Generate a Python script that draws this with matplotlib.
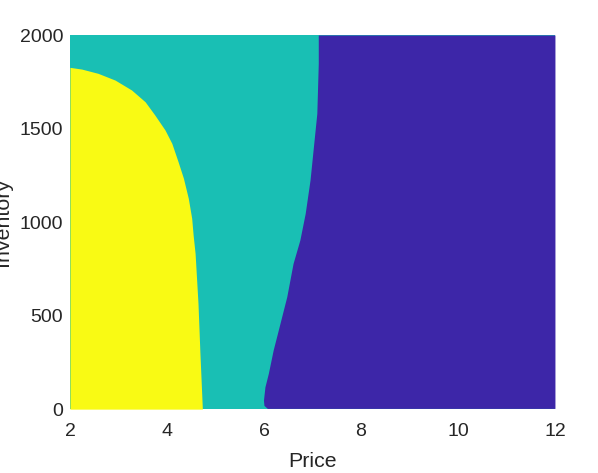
import matplotlib
matplotlib.use("Agg")
import matplotlib.pyplot as plt
import numpy as np

# Region boundaries
yellow_inv = [0, 298, 565, 833, 930, 1020, 1127, 1234, 1322, 1421, 1492, 1572,
              1643, 1706, 1759, 1795, 1818, 1827]
yellow_price = [4.73, 4.68, 4.64, 4.58, 4.54, 4.51, 4.44, 4.34, 4.23, 4.10, 3.96, 3.75,
                3.55, 3.27, 2.93, 2.58, 2.24, 2.0]

blue_inv = [4, 20, 48, 119, 191, 316, 458, 601, 779, 904, 1046, 1225, 1403,
            1581, 1848, 2000]
blue_price = [6.07, 6.0, 5.99, 6.02, 6.09, 6.19, 6.33, 6.47, 6.60, 6.74, 6.85, 6.95, 7.02,
              7.09, 7.12, 7.12]

price_range = [2, 12]
inv_range = [0, 2000]
x_ticks = [2, 4, 6, 8, 10, 12]
y_ticks = [0, 500, 1000, 1500, 2000]

c_yellow = "#F9FA14"
c_teal = "#19BFB4"
c_blue = "#3D26A8"

plt.rcParams['font.family'] = ['Liberation Sans', 'DejaVu Sans']

fig = plt.figure(figsize=(5.98, 4.73), dpi=100)
ax = fig.add_axes([0.117, 0.135, 0.811, 0.791])

ax.fill_between(price_range, inv_range[0], inv_range[1], color=c_teal, lw=0)
ax.fill_betweenx(yellow_inv, price_range[0], yellow_price, color=c_yellow, lw=0)
ax.fill_betweenx(blue_inv, blue_price, price_range[1], color=c_blue, lw=0)

ax.set_xlim(price_range)
ax.set_ylim(inv_range)
ax.set_xticks(x_ticks)
ax.set_yticks(y_ticks)
for s in ax.spines.values():
    s.set_visible(False)
ax.tick_params(axis='both', length=0, labelsize=14, colors='#262626')
ax.tick_params(axis='x', pad=10)
ax.tick_params(axis='y', pad=5)
ax.set_xlabel("Price", fontsize=15.4, color='#262626', labelpad=8.5)
ax.set_ylabel("Inventory", fontsize=15.4, color='#262626')
ax.yaxis.set_label_coords(-0.12, 0.5)

fig.savefig("out.png", dpi=100)
